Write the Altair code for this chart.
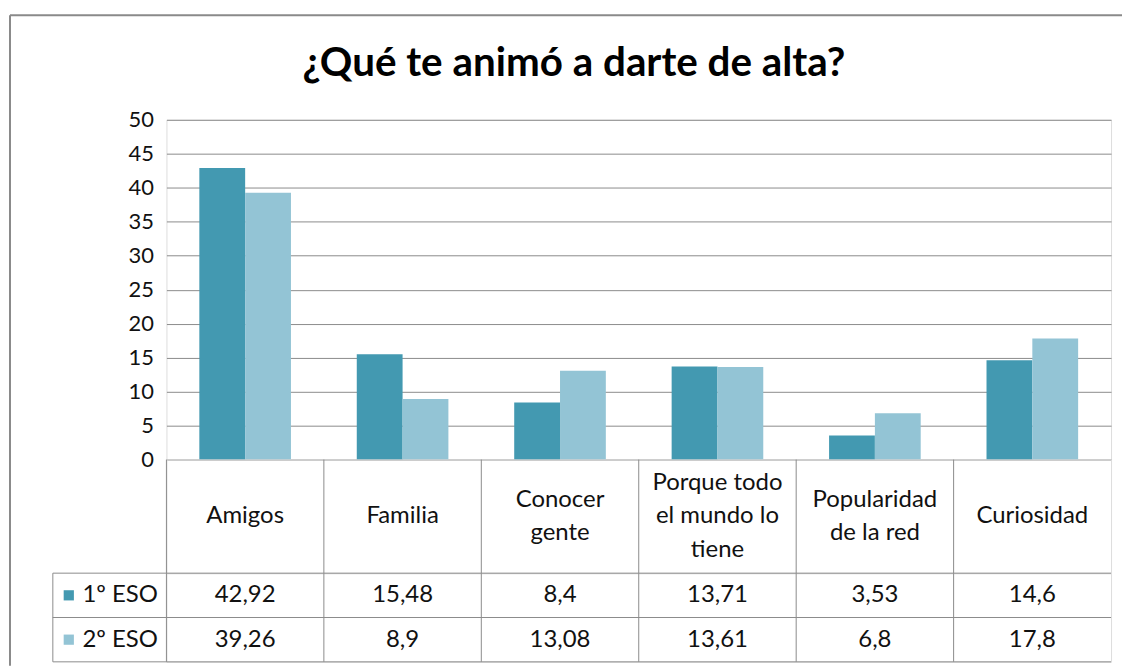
import altair as alt
import pandas as pd

# ---- data ----
categories = ["Amigos", "Familia", "Conocer gente", "Porque todo el mundo lo tiene",
              "Popularidad de la red", "Curiosidad"]
category_labels = ["Amigos", "Familia", "Conocer\ngente", "Porque todo\nel mundo lo\ntiene",
                   "Popularidad\nde la red", "Curiosidad"]
series = ["1º ESO", "2º ESO"]
eso1 = [42.92, 15.48, 8.4, 13.71, 3.53, 14.6]
eso2 = [39.26, 8.9, 13.08, 13.61, 6.8, 17.8]
y_ticks = [0, 5, 10, 15, 20, 25, 30, 35, 40, 45, 50]
title_text = "¿Qué te animó a darte de alta?"

# ---- style ----
colors = ["#4399B1", "#93C4D5"]
FONT = "Lato"
GRID = "#8c8c8c"
TXT = "#111111"
FS = 24
W, H_A, H_B, H_C = 948, 341, 114, 89
LH = 33.5

rows = []
for s, vals in zip(series, [eso1, eso2]):
    for c, v in zip(categories, vals):
        rows.append({"cat": c, "series": s, "value": v})
df = pd.DataFrame(rows)

line_rows = []
for c, lab in zip(categories, category_labels):
    parts = lab.split("\n")
    for i, p in enumerate(parts):
        line_rows.append({"cat": c, "line": p, "i": i, "n": len(parts)})
lines_df = pd.DataFrame(line_rows)
cat_df = pd.DataFrame({"cat": categories})
row_df = pd.DataFrame({"series": series})
one = pd.DataFrame({"t": [title_text]})

color_enc = alt.Color("series:N", sort=series,
                      scale=alt.Scale(domain=series, range=colors), legend=None)

# ---- chart A: bars ----
bars = alt.Chart(df).mark_bar().encode(
    x=alt.X("cat:N", sort=categories, axis=None,
            scale=alt.Scale(paddingInner=0.418, paddingOuter=0.209)),
    xOffset=alt.XOffset("series:N", sort=series,
                        scale=alt.Scale(paddingInner=0, paddingOuter=0)),
    y=alt.Y("value:Q", scale=alt.Scale(domain=[0, 50], nice=False),
            axis=alt.Axis(values=y_ticks, title=None, grid=True, gridColor=GRID,
                          domain=False, ticks=False, labelFont=FONT, labelFontSize=22,
                          labelColor=TXT, labelPadding=13)),
    color=color_enc,
)
title = alt.Chart(one).mark_text(font=FONT, fontSize=40.5, fontWeight="bold", color="#000",
                                 align="center", baseline="alphabetic").encode(
    text="t:N", x=alt.value(409), y=alt.value(-44))
border_top = alt.Chart(one).mark_rule(color="#8a8a8a", strokeWidth=2).encode(
    x=alt.value(-157), x2=alt.value(959), y=alt.value(-105))
border_left = alt.Chart(one).mark_rule(color="#8a8a8a", strokeWidth=2).encode(
    x=alt.value(-157), y=alt.value(-105), y2=alt.value(H_A + H_B + H_C + 4))
chartA = alt.layer(bars, title, border_top, border_left).properties(width=W, height=H_A)

# ---- chart B: category row ----
xcat_scale = alt.Scale(paddingInner=0, paddingOuter=0)
half = H_B / (2 * LH)
cat_text = alt.Chart(lines_df).transform_calculate(
    ypos="datum.i - (datum.n - 1) / 2"
).mark_text(font=FONT, fontSize=FS, color=TXT, align="center", baseline="middle").encode(
    x=alt.X("cat:N", sort=categories, axis=None, scale=xcat_scale),
    y=alt.Y("ypos:Q", axis=None, scale=alt.Scale(domain=[-half, half], reverse=True, nice=False, zero=False)),
    text="line:N")
cat_sep = alt.Chart(cat_df).mark_rule(color=GRID).encode(
    x=alt.X("cat:N", sort=categories, axis=None, bandPosition=0, scale=xcat_scale))
chartB = alt.layer(cat_text, cat_sep).properties(width=W, height=H_B)

# ---- chart C: values rows ----
yrow_scale = alt.Scale(paddingInner=0, paddingOuter=0)
yrow_axis = alt.Axis(title=None, domain=False, ticks=False, labelFont=FONT,
                     labelFontSize=FS, labelColor=TXT, labelPadding=9)
val_text = alt.Chart(df).transform_calculate(
    label="replace(toString(datum.value), '.', ',')"
).mark_text(font=FONT, fontSize=FS, color=TXT, align="center", baseline="middle").encode(
    x=alt.X("cat:N", sort=categories, axis=None, scale=xcat_scale),
    y=alt.Y("series:N", sort=series, scale=yrow_scale, axis=yrow_axis),
    text="label:N")
col_sep = alt.Chart(cat_df).mark_rule(color=GRID).encode(
    x=alt.X("cat:N", sort=categories, axis=None, bandPosition=0, scale=xcat_scale))
row_top = alt.Chart(row_df).mark_rule(color=GRID).encode(
    y=alt.Y("series:N", sort=series, axis=yrow_axis, bandPosition=0, scale=yrow_scale),
    x=alt.value(-114), x2=alt.value(W))
row_bot = alt.Chart(row_df).mark_rule(color=GRID).encode(
    y=alt.Y("series:N", sort=series, axis=yrow_axis, bandPosition=1, scale=yrow_scale),
    x=alt.value(-114), x2=alt.value(W))
leg_left = alt.Chart(one).mark_rule(color=GRID).encode(
    x=alt.value(-114), y=alt.value(0), y2=alt.value(H_C))
squares = alt.Chart(row_df).mark_square(size=105, opacity=1, filled=True).encode(
    y=alt.Y("series:N", sort=series, axis=yrow_axis, scale=yrow_scale),
    x=alt.value(-98), color=color_enc)
chartC = alt.layer(val_text, col_sep, row_top, row_bot, leg_left, squares).properties(
    width=W, height=H_C)

chart = alt.vconcat(chartA, chartB, chartC, spacing=0, bounds="flush").properties(
    padding={"left": 0, "top": 4, "right": 0, "bottom": 0},
    background="white",
).configure_view(stroke=GRID, strokeWidth=1).configure(font=FONT)

chart.save("out.html", embed_options={"renderer": "svg", "actions": False})
